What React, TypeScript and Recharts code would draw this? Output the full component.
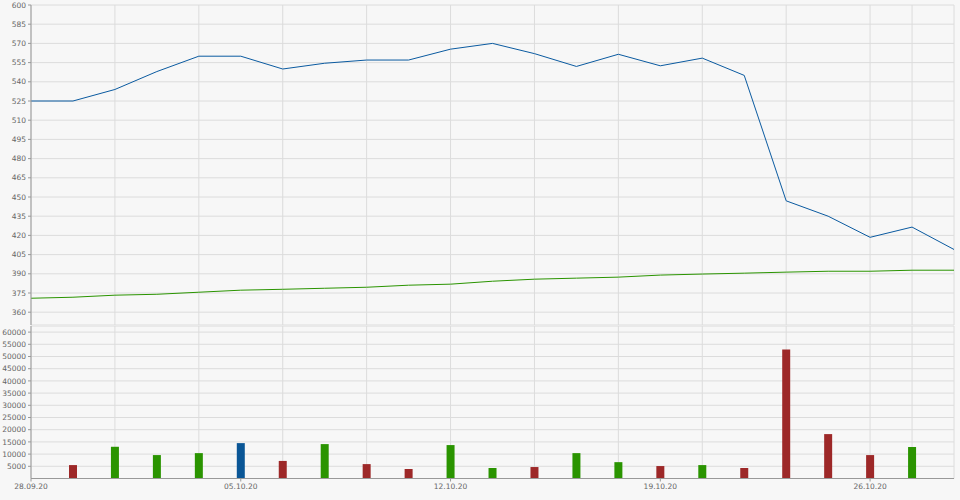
import {
  ComposedChart,
  BarChart,
  Bar,
  Cell,
  Line,
  XAxis,
  YAxis,
  CartesianGrid,
} from "recharts";

const dates = [
  "28.09.20", "29.09.20", "30.09.20", "01.10.20", "02.10.20",
  "05.10.20", "06.10.20", "07.10.20", "08.10.20", "09.10.20",
  "12.10.20", "13.10.20", "14.10.20", "15.10.20", "16.10.20",
  "19.10.20", "20.10.20", "21.10.20", "22.10.20", "23.10.20",
  "26.10.20", "27.10.20", "28.10.20",
];

const price = [
  525, 525, 534, 548, 560, 560, 550, 554.5, 557, 557, 565.5, 570, 562,
  552, 561.5, 552.5, 558.5, 545, 447, 435, 418.5, 426.5, 409,
];

const average = [
  370.9, 371.7, 373.3, 374, 375.6, 377.2, 377.9, 378.7, 379.5, 381.1,
  381.9, 384.2, 385.8, 386.6, 387.4, 389, 389.8, 390.5, 391.3, 392, 392,
  392.8, 392.8,
];

const volume = [
  null, 5500, 13000, 9600, 10400, 14500, 7200, 14100, 5900, 3900, 13700,
  4300, 4700, 10400, 6700, 5100, 5500, 4300, 52900, 18200, 9600, 12900,
  null,
];

// d = down, u = up, f = flat
const direction = [
  "", "d", "u", "u", "u", "f", "d", "u", "d", "d", "u", "u", "d", "u",
  "u", "d", "u", "d", "d", "d", "d", "u", "",
];

const priceTicks = [360, 375, 390, 405, 420, 435, 450, 465, 480, 495, 510, 525, 540, 555, 570, 585, 600];
const volumeTicks = [5000, 10000, 15000, 20000, 25000, 30000, 35000, 40000, 45000, 50000, 55000, 60000];
const dateTicks = [0, 5, 10, 15, 20];
const gridIdx = [2, 4, 6, 8, 10, 12, 14, 16, 18, 20, 21];

const barColors: Record<string, string> = {
  d: "#9d2828",
  u: "#2a9400",
  f: "#0a5696",
  "": "transparent",
};

const data = dates.map((d, i) => ({
  idx: i,
  date: d,
  price: price[i],
  average: average[i],
  volume: volume[i],
}));

const tickStyle = { fill: "#666", fontSize: 7.5, fontFamily: "DejaVu Sans" };
const axisColor = "#999";
const gridColor = "#dcdcdc";

export default function App() {
  return (
    <div
      style={{
        position: "absolute",
        left: 0,
        top: 0,
        width: 960,
        height: 500,
        background: "#f7f7f7",
      }}
    >
      <ComposedChart
        width={960}
        height={326}
        data={data}
        margin={{ top: 5, right: 6, left: 0, bottom: 1 }}
      >
        <XAxis
          dataKey="idx"
          type="number"
          domain={[0, 22]}
          height={0}
          tick={false}
          tickLine={false}
          axisLine={{ stroke: axisColor }}
        />
        <XAxis
          xAxisId="grid"
          dataKey="idx"
          type="number"
          domain={[0, 22]}
          ticks={gridIdx}
          hide
        />
        <YAxis
          type="number"
          domain={[350, 600]}
          ticks={priceTicks}
          width={31}
          tick={tickStyle}
          tickSize={3}
          tickMargin={2}
          tickLine={{ stroke: axisColor }}
          axisLine={{ stroke: axisColor }}
          interval={0}
        />
        <CartesianGrid xAxisId="grid" stroke={gridColor} strokeWidth={1} />
        <Line
          type="linear"
          dataKey="average"
          stroke="#2a9400"
          strokeWidth={1}
          dot={false}
          isAnimationActive={false}
        />
        <Line
          type="linear"
          dataKey="price"
          stroke="#0a5aa0"
          strokeWidth={1}
          dot={false}
          isAnimationActive={false}
        />
      </ComposedChart>
      <BarChart
        width={960}
        height={174}
        data={data}
        margin={{ top: 0, right: 6, left: 0, bottom: 0 }}
      >
        <XAxis
          dataKey="idx"
          type="number"
          domain={[0, 22]}
          ticks={dateTicks}
          tickFormatter={(i: number) => dates[i]}
          height={21.5}
          tick={tickStyle}
          tickSize={3}
          tickMargin={2}
          tickLine={{ stroke: axisColor }}
          axisLine={{ stroke: axisColor }}
          interval={0}
        />
        <XAxis
          xAxisId="grid"
          dataKey="idx"
          type="number"
          domain={[0, 22]}
          ticks={gridIdx}
          hide
        />
        <YAxis
          type="number"
          domain={[0, 62500]}
          ticks={volumeTicks}
          width={31}
          tick={tickStyle}
          tickSize={3}
          tickMargin={2}
          tickLine={{ stroke: axisColor }}
          axisLine={{ stroke: axisColor }}
          interval={0}
        />
        <CartesianGrid xAxisId="grid" stroke={gridColor} strokeWidth={1} />
        <Bar dataKey="volume" barSize={8} isAnimationActive={false}>
          {data.map((d, i) => (
            <Cell key={d.date} fill={barColors[direction[i]]} />
          ))}
        </Bar>
      </BarChart>
    </div>
  );
}
